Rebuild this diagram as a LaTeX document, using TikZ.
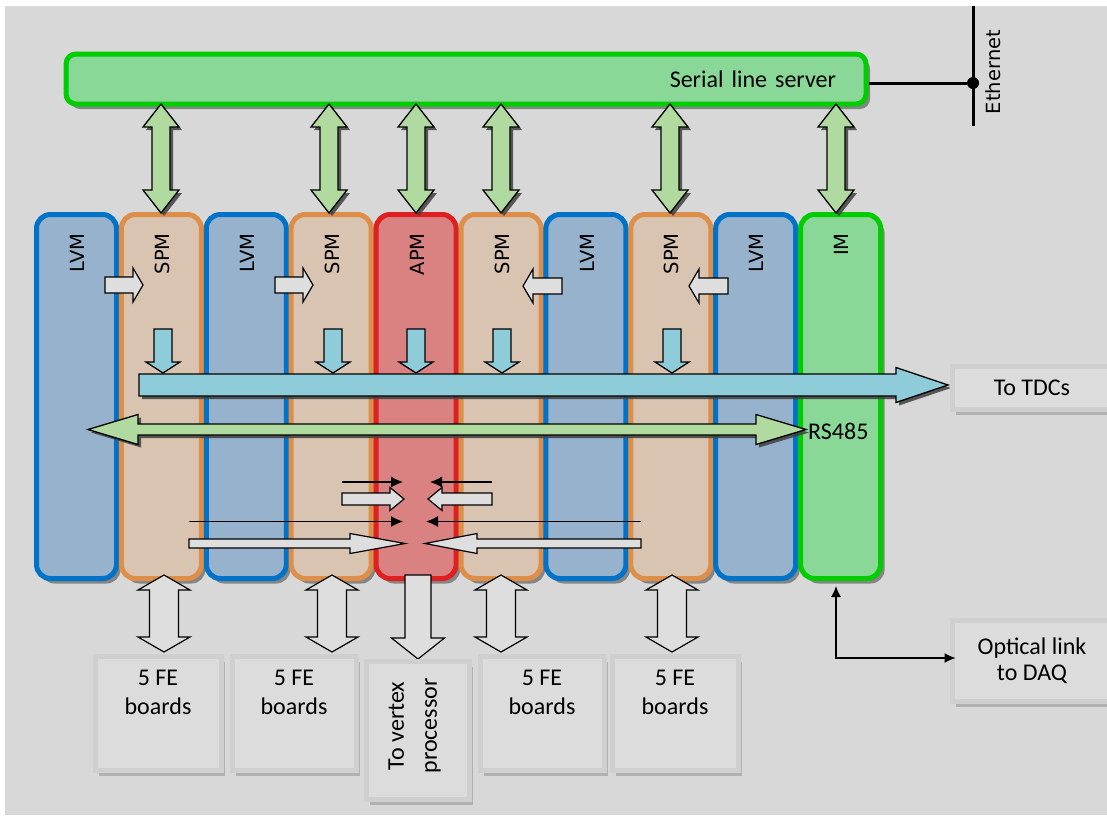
\documentclass[tikz,border=0pt]{standalone}
\usepackage{fontspec}
\setmainfont{Carlito}
\newfontfamily\modfont{DejaVu Sans}
\usetikzlibrary{shadows,arrows.meta,calc}

\definecolor{bg}{RGB}{216,216,216}
\definecolor{lvmfill}{RGB}{151,178,204}
\definecolor{lvmline}{RGB}{0,114,200}
\definecolor{spmfill}{RGB}{217,196,177}
\definecolor{spmline}{RGB}{221,143,74}
\definecolor{apmfill}{RGB}{218,130,130}
\definecolor{apmline}{RGB}{222,32,32}
\definecolor{imfill}{RGB}{137,216,152}
\definecolor{imline}{RGB}{0,204,0}
\definecolor{linkgreen}{RGB}{176,218,160}
\definecolor{linkcyan}{RGB}{141,204,216}
\definecolor{linkgray}{RGB}{222,222,222}
\definecolor{boxfill}{RGB}{220,220,220}
\definecolor{boxline}{RGB}{207,207,207}

% block arrows, all in pixel-like units (x right, y down)
% horizontal single: style, x start, x tip, y, shaft half, head half, head length (signed)
\newcommand\hblock[7]{%
  \draw[#1] (#2,{#4-#5}) -- ({#3-(#7)},{#4-#5}) -- ({#3-(#7)},{#4-#6}) -- (#3,#4)
    -- ({#3-(#7)},{#4+#6}) -- ({#3-(#7)},{#4+#5}) -- (#2,{#4+#5}) -- cycle;}
% vertical single: style, x, y start, y tip, shaft half, head half, head length (signed)
\newcommand\vblock[7]{%
  \draw[#1] ({#2-#5},#3) -- ({#2-#5},{#4-(#7)}) -- ({#2-#6},{#4-(#7)}) -- (#2,#4)
    -- ({#2+#6},{#4-(#7)}) -- ({#2+#5},{#4-(#7)}) -- ({#2+#5},#3) -- cycle;}
% horizontal double: style, left tip, right tip, y, shaft half, head half, head length
\newcommand\hdblock[7]{%
  \draw[#1] (#2,#4) -- ({#2+#7},{#4-#6}) -- ({#2+#7},{#4-#5}) -- ({#3-#7},{#4-#5})
    -- ({#3-#7},{#4-#6}) -- (#3,#4) -- ({#3-#7},{#4+#6}) -- ({#3-#7},{#4+#5})
    -- ({#2+#7},{#4+#5}) -- ({#2+#7},{#4+#6}) -- cycle;}
% vertical double: style, x, top tip, bottom tip, shaft half, head half, head length
\newcommand\vdblock[7]{%
  \draw[#1] (#2,#3) -- ({#2+#6},{#3+#7}) -- ({#2+#5},{#3+#7}) -- ({#2+#5},{#4-#7})
    -- ({#2+#6},{#4-#7}) -- (#2,#4) -- ({#2-#6},{#4-#7}) -- ({#2-#5},{#4-#7})
    -- ({#2-#5},{#3+#7}) -- ({#2-#6},{#3+#7}) -- cycle;}

\begin{document}
\begin{tikzpicture}[x=1pt,y=-1pt,
  darkshadow/.style={drop shadow={shadow xshift=3pt,shadow yshift=-3pt,fill=black!75,opacity=0.85}},
  module/.style={rectangle,rounded corners=14pt,line width=5pt,minimum width=80pt,
    minimum height=364pt,inner sep=0pt,
    drop shadow={shadow xshift=4pt,shadow yshift=-5pt,fill=black!80,opacity=0.5}},
  lvm/.style={fill=lvmfill,draw=lvmline},
  spm/.style={fill=spmfill,draw=spmline},
  apm/.style={fill=apmfill,draw=apmline},
  im/.style={fill=imfill,draw=imline},
  modlabel/.style={font=\modfont\fontsize{19.5}{20}\selectfont,rotate=90,anchor=east,inner sep=0pt},
  server/.style={rectangle,rounded corners=10pt,fill=imfill,draw=imline,line width=5pt,
    minimum height=50pt,text width=740pt,inner xsep=30pt,inner ysep=0pt,align=right,
    font=\fontsize{24}{28}\selectfont,
    drop shadow={shadow xshift=4pt,shadow yshift=-5pt,fill=black!80,opacity=0.5}},
  greenarrow/.style={fill=linkgreen,draw=black,line width=1.3pt,line join=miter,darkshadow},
  cyanarrow/.style={fill=linkcyan,draw=black,line width=1.3pt,line join=miter},
  cyanbar/.style={cyanarrow,darkshadow},
  grayarrow/.style={fill=linkgray,draw=black,line width=1.2pt,line join=miter},
  thinarrow/.style={line width=1.2pt,-{Latex[length=12pt,width=11pt]}},
  box/.style={rectangle,fill=boxfill,draw=boxline,line width=5pt,inner sep=0pt,
    font=\fontsize{24}{29}\selectfont,align=center,
    drop shadow={shadow xshift=4pt,shadow yshift=-5.5pt,fill=black!45}},
  boxtext/.style={anchor=north,align=center,yshift=-13pt,font=\fontsize{24}{29}\selectfont}
]
\useasboundingbox (0,0) rectangle (1107,815);
\fill[white] (0,0) rectangle (1107,815);
\fill[bg] (5,6) rectangle (1107,815);

% serial line server and Ethernet
\node[server] (sls) at (466,79) {Serial line server};
\coordinate (ethtop) at (973,6);
\coordinate (ethbot) at (973,126);
\node[circle,fill=black,minimum size=12pt,inner sep=0pt] (ethjoin) at (973,83) {};
\draw[line width=3pt] (ethtop) -- (ethbot);
\draw[line width=3pt] (sls.east |- ethjoin) -- (ethjoin);
\node[font=\modfont\fontsize{19.5}{20}\selectfont,rotate=90,inner sep=0pt] (eth) at (993,72) {Ethernet};

% crate modules
\foreach \i/\name/\kind/\txt in {0/lvm1/lvm/LVM,1/spm1/spm/SPM,2/lvm2/lvm/LVM,3/spm2/spm/SPM,
    4/apm/apm/APM,5/spm3/spm/SPM,6/lvm3/lvm/LVM,7/spm4/spm/SPM,8/lvm4/lvm/LVM,9/im/im/IM}{
  \node[module,\kind] (\name) at ({76.5+84.9*\i},396.5) {};
  \node[modlabel] at ($(\name.north)+(1,21)$) {\txt};
}

% links to the serial line server
\foreach \x in {161,329,416,501,670,836}{
  \vdblock{greenarrow}{\x}{104}{213}{9}{18}{23}
}

% trigger bus to the TDCs
\hblock{cyanbar}{139}{948}{385}{11}{17.5}{52}
\foreach \x in {163,333,416,502,672}{
  \vblock{cyanarrow}{\x}{329}{373}{9}{17}{11}
}

% RS485 bus
\hdblock{greenarrow}{88}{806}{429.5}{5.5}{15}{50}
\node[anchor=west,inner sep=0pt,font=\fontsize{24}{28}\selectfont] (rs) at (808,431) {RS485};

% supply from the LV modules
\hblock{grayarrow}{105}{143}{285}{8}{17}{10}
\hblock{grayarrow}{275}{313}{285}{8}{17}{10}
\hblock{grayarrow}{562}{523}{286}{8}{17}{-10}
\hblock{grayarrow}{728}{689}{286}{8}{17}{-10}

% data into the APM
\draw[thinarrow] (342,482) -- (403,482);
\draw[thinarrow] (492,482) -- (430,482);
\hblock{grayarrow}{342}{404}{499}{6}{11.5}{14}
\hblock{grayarrow}{492}{428}{499}{6}{11.5}{-14}
\draw[thinarrow] (189,521.5) -- (403,521.5);
\draw[thinarrow] (641,521.5) -- (426,521.5);
\hblock{grayarrow}{189}{405}{543.5}{4.5}{10}{55}
\hblock{grayarrow}{641}{425}{543.5}{4.5}{10}{-52}

% front-end links
\foreach \x in {164,332,501,672}{
  \vdblock{grayarrow}{\x}{575}{652}{14.5}{26}{15}
}
\vblock{grayarrow}{418}{575}{659}{13}{26.5}{21}

% destination boxes
\node[box,minimum width=126pt,minimum height=114pt,label={[boxtext]north:5 FE\\boards}] (fe1) at (158,713) {};
\node[box,minimum width=124pt,minimum height=114pt,label={[boxtext]north:5 FE\\boards}] (fe2) at (294,713) {};
\node[box,minimum width=103pt,minimum height=138pt] (vtx) at (417.5,730) {};
\node[rotate=90,align=center,inner sep=0pt,font=\fontsize{24}{33}\selectfont] at ($(vtx.center)+(-3,-4)$) {To vertex\\processor};
\node[box,minimum width=124pt,minimum height=114pt,label={[boxtext]north:5 FE\\boards}] (fe4) at (542,713) {};
\node[box,minimum width=126pt,minimum height=114pt,label={[boxtext]north:5 FE\\boards}] (fe5) at (675,713) {};
\node[box,minimum width=160pt,minimum height=43pt] (tdc) at (1032,387.5) {To TDCs};
\node[box,minimum width=160pt,minimum height=81pt,font=\fontsize{24}{26}\selectfont] (daq) at (1032,660.5) {Optical link\\to DAQ};

% optical link from the interface module
\coordinate (optcorner) at (836,658);
\draw[line width=1.2pt,{Latex[length=11pt,width=10pt]}-{Latex[length=11pt,width=10pt]},
  shorten <=5pt,shorten >=-6pt] (optcorner |- im.south) -- (optcorner) -- (daq.west |- optcorner);
\end{tikzpicture}
\end{document}
